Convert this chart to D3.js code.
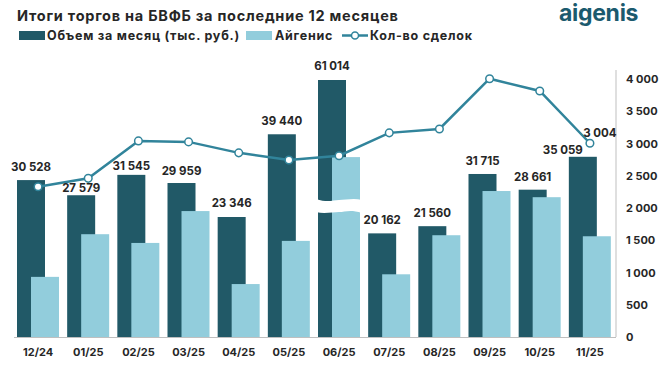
<!DOCTYPE html>
<html lang="ru">
  <head>
    <meta charset="utf-8">
    <title>Итоги торгов на БВФБ</title>
    <script src="https://d3js.org/d3.v7.js"></script>
    <style>
      body { margin: 0; background: #fff; }
      text { font-family: Inter, "Open Sans", sans-serif; font-weight: 700; fill: #262626; }
    </style>
  </head>
  <body>
    <script>

  // size of the picture
  var w = 665;
  var h = 367;

  // data
  var months = ["12/24", "01/25", "02/25", "03/25", "04/25", "05/25", "06/25", "07/25", "08/25", "09/25", "10/25", "11/25"];
  var volume = [30528, 27579, 31545, 29959, 23346, 39440, 61014, 20162, 21560, 31715, 28661, 35059];
  var aigenis = [11700, 20000, 18300, 24500, 10300, 18700, 35000, 12200, 19800, 28400, 27200, 19600];
  var deals = [2330, 2460, 3040, 3025, 2855, 2745, 2810, 3165, 3225, 4005, 3815, 3004];
  var rightTicks = [0, 500, 1000, 1500, 2000, 2500, 3000, 3500, 4000];

  // gap between bar top and its label (labels were nudged by hand in the original)
  var labelGap = [9, 3, 5, 8, 10, 9, 10, 9, 9, 9, 9, 3];

  var dark = "#215967", light = "#92cddc", lineColor = "#31849b";
  var fmtSp = v => d3.format(",")(v).replace(/,/g, " ");

  var svg = d3.select("body").append("svg")
    .attr("width", w)
    .attr("height", h);

  // scales
  var x = d3.scaleBand()
    .domain(months)
    .range([14, 616])
    .paddingInner(0);

  var yLeft = d3.scaleLinear()
    .domain([0, 50000])
    .range([337, 80])
    .clamp(true);

  var yRight = d3.scaleLinear()
    .domain([0, 4000])
    .range([337, 79]);

  var barW = 28;
  var cx = m => x(m) + x.bandwidth() / 2 - 1;

  // title + logo
  svg.append("text")
    .attr("x", 17).attr("y", 21)
    .style("font-size", "14.5px")
    .style("letter-spacing", "0.75px")
    .text("Итоги торгов на БВФБ за последние 12 месяцев");

  svg.append("text")
    .attr("x", 559).attr("y", 21)
    .style("font-size", "23px")
    .style("fill", "#1b5a6e")
    .style("letter-spacing", "-0.3px")
    .text("aigenis");

  // legend
  var leg = svg.append("g").style("font-size", "12.5px").style("letter-spacing", "0.75px");
  leg.append("rect").attr("x", 19).attr("y", 31).attr("width", 26).attr("height", 9).attr("fill", dark);
  leg.append("text").attr("x", 47).attr("y", 40).text("Объем за месяц (тыс. руб.)");
  leg.append("rect").attr("x", 246).attr("y", 31).attr("width", 26).attr("height", 9).attr("fill", light);
  leg.append("text").attr("x", 275).attr("y", 40).text("Айгенис");
  leg.append("line").attr("x1", 342).attr("x2", 368).attr("y1", 35.5).attr("y2", 35.5)
    .attr("stroke", lineColor).attr("stroke-width", 2.5);
  leg.append("circle").attr("cx", 355).attr("cy", 35.5).attr("r", 3.5)
    .attr("fill", "#fff").attr("stroke", lineColor).attr("stroke-width", 1.5);
  leg.append("text").attr("x", 370).attr("y", 40).text("Кол-во сделок");

  // right axis
  svg.append("line")
    .attr("x1", 616).attr("x2", 616).attr("y1", 70).attr("y2", 337)
    .attr("stroke", "#bfbfbf");

  svg.append("g").selectAll("text")
    .data(rightTicks)
    .enter().append("text")
    .attr("x", 626)
    .attr("y", d => yRight(d) + 4)
    .style("font-size", "11px")
    .text(d => fmtSp(d));

  // bars
  var rows = months.map((m, i) => ({ m: m, v: volume[i], a: aigenis[i], gap: labelGap[i], last: i === months.length - 1 }));

  svg.append("g").selectAll("rect")
    .data(rows)
    .enter().append("rect")
    .attr("x", d => x(d.m) + 3)
    .attr("y", d => yLeft(d.v))
    .attr("width", barW)
    .attr("height", d => 337 - yLeft(d.v))
    .attr("fill", dark);

  svg.append("g").selectAll("rect")
    .data(rows)
    .enter().append("rect")
    .attr("x", d => x(d.m) + 17)
    .attr("y", d => yLeft(d.a))
    .attr("width", barW)
    .attr("height", d => 337 - yLeft(d.a))
    .attr("fill", light);

  // axis break on the bar that is out of range
  rows.filter(d => d.v > 50000).forEach(function(d) {
    var x0 = x(d.m) + 1, x1 = x(d.m) + 47;
    var yb = 199;
    var mid = (x0 + x1) / 2;
    var p = "M" + x0 + "," + yb +
      " C" + (x0 + 12) + "," + (yb + 4) + " " + (mid - 6) + "," + (yb + 1) + " " + mid + "," + (yb + 1) +
      " S" + (x1 - 8) + "," + (yb - 1) + " " + x1 + "," + (yb + 1) +
      " L" + x1 + "," + (yb + 14) +
      " C" + (x1 - 12) + "," + (yb + 10) + " " + (mid + 6) + "," + (yb + 13) + " " + mid + "," + (yb + 13) +
      " S" + (x0 + 8) + "," + (yb + 15) + " " + x0 + "," + (yb + 13) + " Z";
    svg.append("path").attr("d", p).attr("fill", "#fff");
  });

  // baseline
  svg.append("line")
    .attr("x1", 14).attr("x2", 616).attr("y1", 337.5).attr("y2", 337.5)
    .attr("stroke", "#bfbfbf").attr("stroke-width", 1.2);

  // x labels
  svg.append("g").selectAll("text")
    .data(months)
    .enter().append("text")
    .attr("x", d => cx(d))
    .attr("y", 356)
    .attr("text-anchor", "middle")
    .style("font-size", "11px")
    .text(d => d);

  // deals line
  var line = d3.line()
    .x((d, i) => cx(months[i]))
    .y(d => yRight(d));

  svg.append("path")
    .datum(deals)
    .attr("d", line)
    .attr("fill", "none")
    .attr("stroke", lineColor)
    .attr("stroke-width", 2.5);

  svg.append("g").selectAll("circle")
    .data(deals)
    .enter().append("circle")
    .attr("cx", (d, i) => cx(months[i]))
    .attr("cy", d => yRight(d))
    .attr("r", 3.8)
    .attr("fill", "#fff")
    .attr("stroke", lineColor)
    .attr("stroke-width", 1.5);

  // bar labels (the last one sits to the left so it clears the line label)
  svg.append("g").selectAll("text")
    .data(rows)
    .enter().append("text")
    .attr("x", d => x(d.m) + 3 + barW / 2)
    .attr("y", d => yLeft(d.v) - d.gap)
    .attr("text-anchor", d => d.last ? "end" : "middle")
    .style("font-size", "11.5px")
    .text(d => fmtSp(d.v));

  // label of the last point
  var last = deals.length - 1;
  svg.append("text")
    .attr("x", cx(months[last]) + 10)
    .attr("y", yRight(deals[last]) - 6)
    .attr("text-anchor", "middle")
    .style("font-size", "11.5px")
    .text(fmtSp(deals[last]));

    </script>
  </body>
</html>
